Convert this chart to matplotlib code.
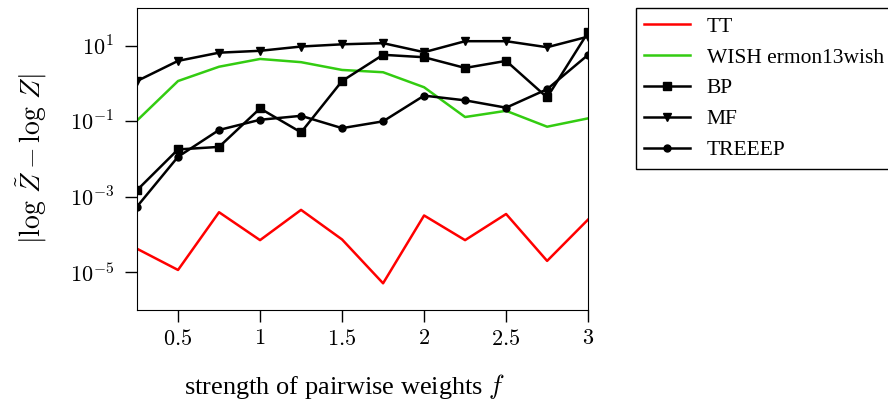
import numpy as np
import matplotlib.pyplot as plt
from matplotlib.ticker import FuncFormatter, NullLocator

plt.rcParams['mathtext.fontset'] = 'cm'
plt.rcParams['font.family'] = ['Liberation Serif', 'DejaVu Serif']

# Data
f = [0.25, 0.5, 0.75, 1.0, 1.25, 1.5, 1.75, 2.0, 2.25, 2.5, 2.75, 3.0]
tt = [4.2e-5, 1.15e-5, 3.9e-4, 7.1e-5, 4.5e-4, 7.4e-5, 5.1e-6, 3.2e-4, 7.1e-5, 3.5e-4, 2.0e-5, 2.5e-4]
wish = [0.105, 1.17, 2.8, 4.5, 3.7, 2.3, 2.0, 0.8, 0.13, 0.19, 0.072, 0.12]
bp = [1.5e-3, 0.018, 0.021, 0.22, 0.051, 1.17, 5.8, 5.0, 2.6, 4.0, 0.43, 23]
mf = [1.17, 4.0, 6.6, 7.4, 9.6, 11, 11.8, 6.8, 13.3, 13.3, 9.2, 17.6]
treeep = [5.5e-4, 0.0115, 0.059, 0.11, 0.14, 0.066, 0.10, 0.48, 0.36, 0.23, 0.71, 5.8]

fig = plt.figure(figsize=(8.88, 4.03), dpi=100)
ax = fig.add_axes([0.1543, 0.2308, 0.508, 0.749])

ax.plot(f, tt, color='#ff0000', lw=1.8, label='TT')
ax.plot(f, wish, color='#33cc11', lw=1.8, label='WISH ermon13wish')
ax.plot(f, bp, color='black', lw=1.8, marker='s', ms=6, label='BP')
ax.plot(f, mf, color='black', lw=1.8, marker='v', ms=6, label='MF')
ax.plot(f, treeep, color='black', lw=1.8, marker='o', ms=5, label='TREEEP')

ax.set_yscale('log')
ax.set_xlim(0.25, 3.0)
ax.set_ylim(1e-6, 1e2)
ax.set_xticks([0.5, 1, 1.5, 2, 2.5, 3])
ax.set_yticks([1e-5, 1e-3, 1e-1, 1e1])
ax.yaxis.set_minor_locator(NullLocator())
ax.xaxis.set_major_formatter(FuncFormatter(lambda x, p: f'${x:g}$'))
ax.yaxis.set_major_formatter(FuncFormatter(lambda y, p: f'$10^{{{int(round(np.log10(y)))}}}$'))
ax.tick_params(length=8.5, width=1, labelsize=16)
ax.tick_params(axis='x', pad=6)
ax.tick_params(axis='y', pad=8)

ax.set_xlabel('strength of pairwise weights $f$', fontsize=19)
ax.xaxis.set_label_coords(0.461, -0.205)
ax.set_ylabel(r'$|\log\,\tilde{Z} - \log\,Z|$', fontsize=20, labelpad=15)

ax.legend(loc='upper left', bbox_to_anchor=(0.716, 0.980), bbox_transform=fig.transFigure,
          fontsize=15.5, fancybox=False, edgecolor='black', framealpha=1,
          handlelength=2.1, borderaxespad=0)

fig.savefig('out.png', dpi=100)
